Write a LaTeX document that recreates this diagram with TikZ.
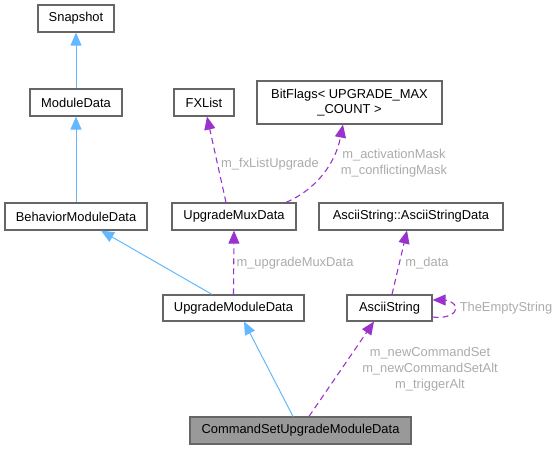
\documentclass[tikz,border=0pt]{standalone}
\usepackage{fontspec}
\setmainfont{Liberation Sans}
\usetikzlibrary{arrows.meta}
\definecolor{nodeborder}{HTML}{666666}
\definecolor{inhblue}{HTML}{63B8FF}
\definecolor{usepurple}{HTML}{9A32CD}
\definecolor{labelgrey}{HTML}{ABABAB}
\definecolor{hlfill}{HTML}{999999}
\begin{document}
\begin{tikzpicture}[x=1bp,y=-1bp,
 cls/.style={draw=nodeborder, line width=1.2bp, fill=white, inner sep=0pt,
   font=\fontsize{12.9bp}{15bp}\selectfont, align=center},
 inh/.style={draw=inhblue, line width=1bp, -{Triangle[length=13bp,width=11bp,fill=inhblue]}},
 use/.style={draw=usepurple, line width=1.1bp, dash pattern=on 6bp off 4bp,
   -{Triangle[length=13bp,width=11bp,fill=usepurple]}},
 lbl/.style={text=labelgrey, inner sep=0pt, font=\fontsize{12.9bp}{16bp}\selectfont, align=center}
]
\useasboundingbox (0,0) rectangle (558,449);

\node[cls, minimum width=76bp, minimum height=27bp] (snap) at (76,18.5) {Snapshot};
\node[cls, minimum width=92bp, minimum height=27bp] (mod) at (76,102.5) {ModuleData};
\node[cls, minimum width=142bp, minimum height=27bp] (beh) at (76,216.5) {BehaviorModuleData};
\node[cls, minimum width=60bp, minimum height=27bp] (fx) at (204,102.5) {FXList};
\node[cls, minimum width=185bp, minimum height=43bp] (bit) at (349.5,102.5) {BitFlags< UPGRADE\_MAX\\\_COUNT >};
\node[cls, minimum width=124bp, minimum height=27bp] (mux) at (234,216.5) {UpgradeMuxData};
\node[cls, minimum width=184bp, minimum height=27bp] (asd) at (411,216.5) {AsciiString::AsciiStringData};
\node[cls, minimum width=141bp, minimum height=26bp] (umd) at (233.5,308) {UpgradeModuleData};
\node[cls, minimum width=85bp, minimum height=26bp] (as) at (389.5,308) {AsciiString};
\node[cls, fill=hlfill, minimum width=221bp, minimum height=27bp] (cmd) at (300.5,430.5) {CommandSetUpgradeModuleData};

\draw[inh] (mod.north) -- (snap.south);
\draw[inh] (beh.north) -- (mod.south);
\draw[inh] ([xshift=-21.5bp]umd.north) -- ([xshift=25bp]beh.south);
\draw[inh] ([xshift=-7.5bp]cmd.north) -- ([xshift=10.5bp]umd.south);

\draw[use] (umd.north) -- (mux.south);
\draw[use] ([xshift=-8bp]mux.north) -- ([xshift=3bp]fx.south);
\draw[use] ([xshift=52bp]mux.north) .. controls (315,190) and (335,165) .. ([xshift=-6.5bp]bit.south);
\draw[use] ([xshift=2.5bp]as.north) -- ([xshift=-4bp]asd.south);
\draw[use] ([xshift=8.5bp]cmd.north) -- ([xshift=-15.5bp]as.south);
\draw[use] ([yshift=-9bp]as.east) .. controls (448,319) and (456,313) .. (456,308)
  .. controls (456,303) and (447,300) .. ([yshift=8bp]as.east);

\node[lbl] (l1) at (270,164) {m\_fxListUpgrade};
\node[lbl] (l2) at (394,163.5) {m\_activationMask\\m\_conflictingMask};
\node[lbl] (l3) at (295,263) {m\_upgradeMuxData};
\node[lbl] (l4) at (427,263) {m\_data};
\node[lbl] (l5) at (506,308) {TheEmptyString};
\node[lbl] (l6) at (430,369) {m\_newCommandSet\\m\_newCommandSetAlt\\m\_triggerAlt};
\end{tikzpicture}
\end{document}
